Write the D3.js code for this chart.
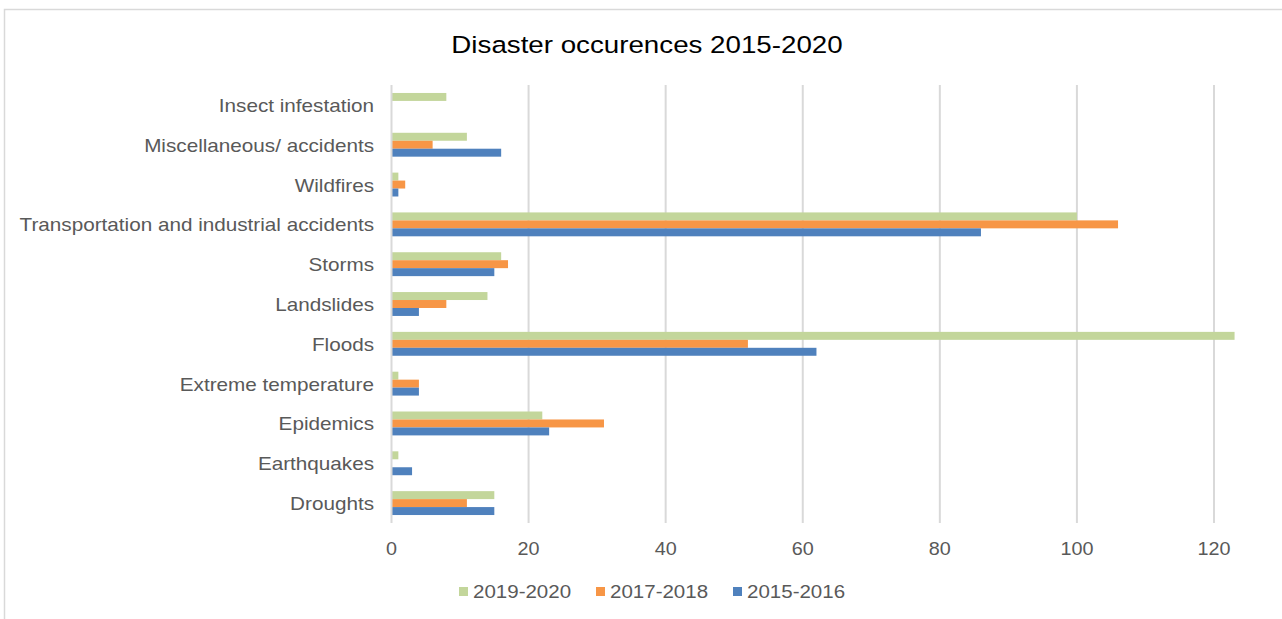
<!DOCTYPE html>
<html><head><meta charset="utf-8">
<script src="https://cdn.jsdelivr.net/npm/d3@7"></script>
<style>body{margin:0;background:#fff;} svg{display:block;font-family:"Liberation Sans",Arial,sans-serif;}</style>
</head><body>
<svg id="c" width="1282" height="619"></svg>
<script>
const categories = ["Droughts","Earthquakes","Epidemics","Extreme temperature","Floods","Landslides","Storms","Transportation and industrial accidents","Wildfires","Miscellaneous/ accidents","Insect infestation"];
const seriesNames = ["2019-2020","2017-2018","2015-2016"];
const v2019_2020 = [15,1,22,1,123,14,16,100,1,11,8];
const v2017_2018 = [11,0,31,4,52,8,17,106,2,6,0];
const v2015_2016 = [15,3,23,4,62,4,15,86,1,16,0];
const xTicks = [0,20,40,60,80,100,120];
const colors = ["#c3d69b","#f79646","#4f81bd"];
const values = [v2019_2020, v2017_2018, v2015_2016];

const svg = d3.select("#c");
svg.append("rect").attr("x",4.5).attr("y",9.5).attr("width",1290).attr("height",620).attr("fill","#fff").attr("stroke","#d9d9d9").attr("stroke-width",1.5);

const L=391.5, R=1214, T=85, B=523;
const x = d3.scaleLinear().domain([0,120]).range([L,R]);
const y = d3.scaleBand().domain(categories.slice().reverse()).range([T,B]).paddingInner(0.4).paddingOuter(0.2);
const sub = d3.scaleBand().domain(seriesNames).range([0,y.bandwidth()]);

function stext(px,py,sx,size,anchor,fill,txt){
  return svg.append("text").attr("transform",`translate(${px},${py}) scale(${sx},1)`)
    .attr("text-anchor",anchor).attr("font-size",size).attr("fill",fill).text(txt);
}

stext(647,53,1.18,23.5,"middle","#000","Disaster occurences 2015-2020");

// gridlines
svg.append("g").selectAll("line").data(xTicks.slice(1)).join("line")
  .attr("x1",d=>x(d)).attr("x2",d=>x(d)).attr("y1",T).attr("y2",B)
  .attr("stroke","#d9d9d9").attr("stroke-width",2);

// bars
const g = svg.append("g");
categories.forEach((c,i)=>{
  seriesNames.forEach((s,j)=>{
    const v = values[j][i];
    if(v>0) g.append("rect").attr("x",x(0)).attr("y",y(c)+sub(s)).attr("width",x(v)-x(0)).attr("height",sub.bandwidth())
      .attr("fill",colors[j]);
  });
});

// axis line
svg.append("line").attr("x1",x(0)).attr("x2",x(0)).attr("y1",T).attr("y2",B).attr("stroke","#d9d9d9").attr("stroke-width",2);

// x tick labels
xTicks.forEach(t=>{ stext(x(t),555,1.1,18,"middle","#595959",String(t)); });

// y labels
categories.forEach(c=>{ stext(374,y(c)+y.bandwidth()/2+7,1.15,18,"end","#595959",c); });

// legend
const legX = [459,596,733];
seriesNames.forEach((s,j)=>{
  svg.append("rect").attr("x",legX[j]).attr("y",587).attr("width",9).attr("height",9).attr("fill",colors[j]);
  stext(legX[j]+14,598,1.08,19,"start","#595959",s);
});
</script>
</body></html>
